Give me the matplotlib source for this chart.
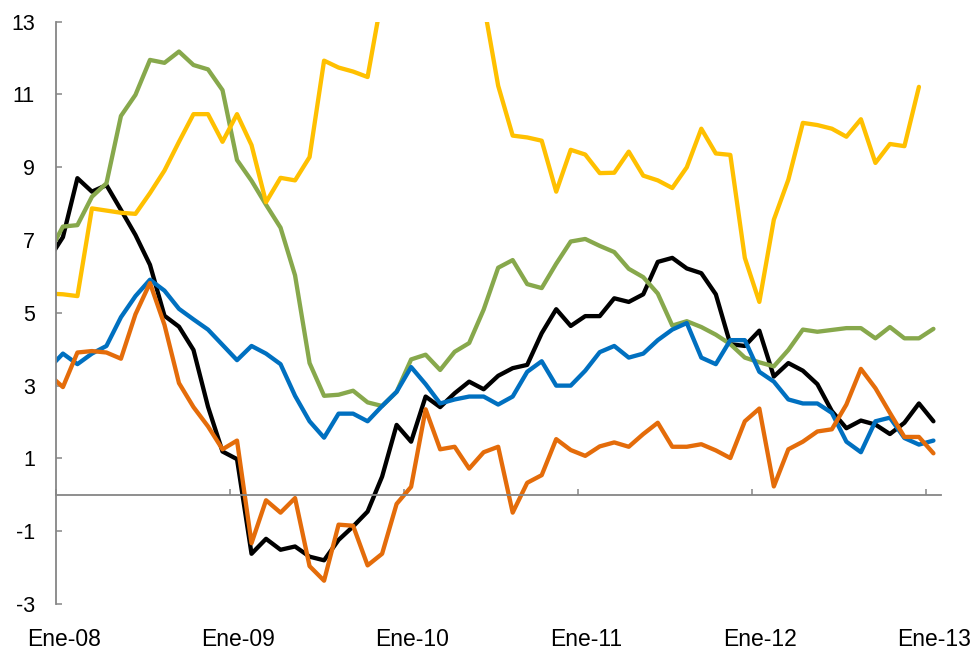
import numpy as np
import matplotlib
matplotlib.use("Agg")
import matplotlib.pyplot as plt

plt.rcParams['font.family'] = ['Liberation Sans Narrow', 'Liberation Sans', 'DejaVu Sans']
plt.rcParams['axes.unicode_minus'] = False

# Monthly observations, Dec-07 .. Jan-13 (values plotted at mid-month)
month_index = np.arange(-1, 61)

serie_negra = [6.46, 7.08, 8.70, 8.33, 8.51, 7.83, 7.14, 6.32, 4.92, 4.62, 3.98, 2.42,
               1.19, 0.98, -1.62, -1.21, -1.51, -1.42, -1.70, -1.80, -1.24, -0.87, -0.46, 0.50,
               1.92, 1.46, 2.70, 2.41, 2.79, 3.11, 2.90, 3.27, 3.48, 3.57, 4.44, 5.10,
               4.64, 4.91, 4.91, 5.40, 5.30, 5.51, 6.40, 6.51, 6.22, 6.09, 5.51, 4.14,
               4.09, 4.51, 3.25, 3.62, 3.41, 3.04, 2.30, 1.83, 2.04, 1.93, 1.67, 1.98,
               2.51, 2.02]

serie_verde = [6.63, 7.37, 7.41, 8.19, 8.56, 10.41, 10.99, 11.95, 11.87, 12.18, 11.81, 11.69,
               11.12, 9.20, 8.63, 7.97, 7.34, 6.03, 3.62, 2.72, 2.75, 2.86, 2.54, 2.44,
               2.83, 3.72, 3.85, 3.43, 3.93, 4.17, 5.09, 6.24, 6.45, 5.79, 5.68, 6.35,
               6.96, 7.03, 6.84, 6.67, 6.21, 5.98, 5.53, 4.65, 4.77, 4.61, 4.40, 4.14,
               3.77, 3.64, 3.53, 3.98, 4.54, 4.48, 4.53, 4.58, 4.58, 4.30, 4.61, 4.30,
               4.30, 4.56]

serie_amarilla = [5.53, 5.51, 5.46, 7.87, 7.81, 7.75, 7.72, 8.29, 8.91, 9.70, 10.46, 10.46,
                  9.70, 10.46, 9.61, 8.04, 8.71, 8.64, 9.28, 11.93, 11.74, 11.63, 11.48, 13.7,
                  15.0, 16.0, 16.5, 16.0, 15.2, 14.3, 13.5, 11.24, 9.87, 9.82, 9.73, 8.33,
                  9.48, 9.35, 8.84, 8.85, 9.43, 8.77, 8.64, 8.43, 9.00, 10.06, 9.38, 9.34,
                  6.51, 5.30, 7.56, 8.66, 10.22, 10.16, 10.06, 9.84, 10.32, 9.12, 9.64, 9.58,
                  11.21, np.nan]

serie_azul = [3.46, 3.88, 3.59, 3.88, 4.09, 4.88, 5.46, 5.91, 5.61, 5.11, 4.82, 4.54,
              4.12, 3.70, 4.09, 3.88, 3.59, 2.72, 2.02, 1.57, 2.23, 2.23, 2.02, 2.44,
              2.83, 3.51, 3.04, 2.51, 2.62, 2.70, 2.70, 2.48, 2.70, 3.38, 3.67, 3.00,
              3.00, 3.41, 3.92, 4.09, 3.77, 3.88, 4.25, 4.54, 4.72, 3.77, 3.59, 4.25,
              4.25, 3.38, 3.11, 2.62, 2.51, 2.51, 2.25, 1.46, 1.17, 2.02, 2.12, 1.56,
              1.38, 1.49]

serie_naranja = [3.32, 2.96, 3.91, 3.95, 3.91, 3.74, 4.96, 5.82, 4.67, 3.07, 2.41, 1.88,
                 1.25, 1.49, -1.33, -0.15, -0.49, -0.09, -1.96, -2.36, -0.82, -0.85, -1.94, -1.62,
                 -0.25, 0.22, 2.35, 1.25, 1.32, 0.72, 1.17, 1.32, -0.49, 0.33, 0.54, 1.53,
                 1.23, 1.07, 1.33, 1.44, 1.32, 1.67, 1.98, 1.32, 1.32, 1.39, 1.22, 1.01,
                 2.02, 2.37, 0.23, 1.25, 1.46, 1.74, 1.80, 2.48, 3.46, 2.93, 2.25, 1.59,
                 1.59, 1.14]

etiquetas_x = ["Ene-08", "Ene-09", "Ene-10", "Ene-11", "Ene-12", "Ene-13"]
ticks_y = [-3, -1, 1, 3, 5, 7, 9, 11, 13]

colores = {
    "negra": "#000000",
    "verde": "#87A84C",
    "amarilla": "#FFC000",
    "azul": "#0070C0",
    "naranja": "#E46C0A",
}

fig = plt.figure(figsize=(9.73, 6.5), dpi=100)
ax = fig.add_axes([0.0572, 0.0708, 0.9096, 0.8958])

x = month_index + 0.5
lw = 3.1
for serie, key in [(serie_negra, "negra"), (serie_verde, "verde"),
                   (serie_amarilla, "amarilla"), (serie_azul, "azul"),
                   (serie_naranja, "naranja")]:
    ax.plot(x, serie, color=colores[key], lw=lw,
            solid_joinstyle="round", solid_capstyle="round")

ax.set_xlim(0, 61)
ax.set_ylim(-3, 13)

gris = "#868686"
for s in ["top", "right"]:
    ax.spines[s].set_visible(False)
ax.spines["left"].set_color(gris)
ax.spines["left"].set_linewidth(1.3)
ax.spines["bottom"].set_position(("data", 0))
ax.spines["bottom"].set_color(gris)
ax.spines["bottom"].set_linewidth(1.3)

ax.set_yticks(ticks_y)
ax.set_yticklabels([str(v) for v in ticks_y])
ax.tick_params(axis="y", direction="in", length=4.5, width=1.1, color=gris,
               labelsize=15.5, pad=15)

ax.set_xticks([12 * i for i in range(len(etiquetas_x))])
ax.tick_params(axis="x", direction="in", length=4.5, width=1.1, color=gris,
               labelbottom=False)

# Date labels sit under the plot area, not on the zero line
sec = ax.secondary_xaxis("bottom")
sec.spines["bottom"].set_visible(False)
sec.set_xticks([12 * i + 0.55 for i in range(len(etiquetas_x))])
sec.set_xticklabels(etiquetas_x)
sec.tick_params(axis="x", length=0, labelsize=16.5, pad=17)

fig.savefig("out.png", dpi=100)
